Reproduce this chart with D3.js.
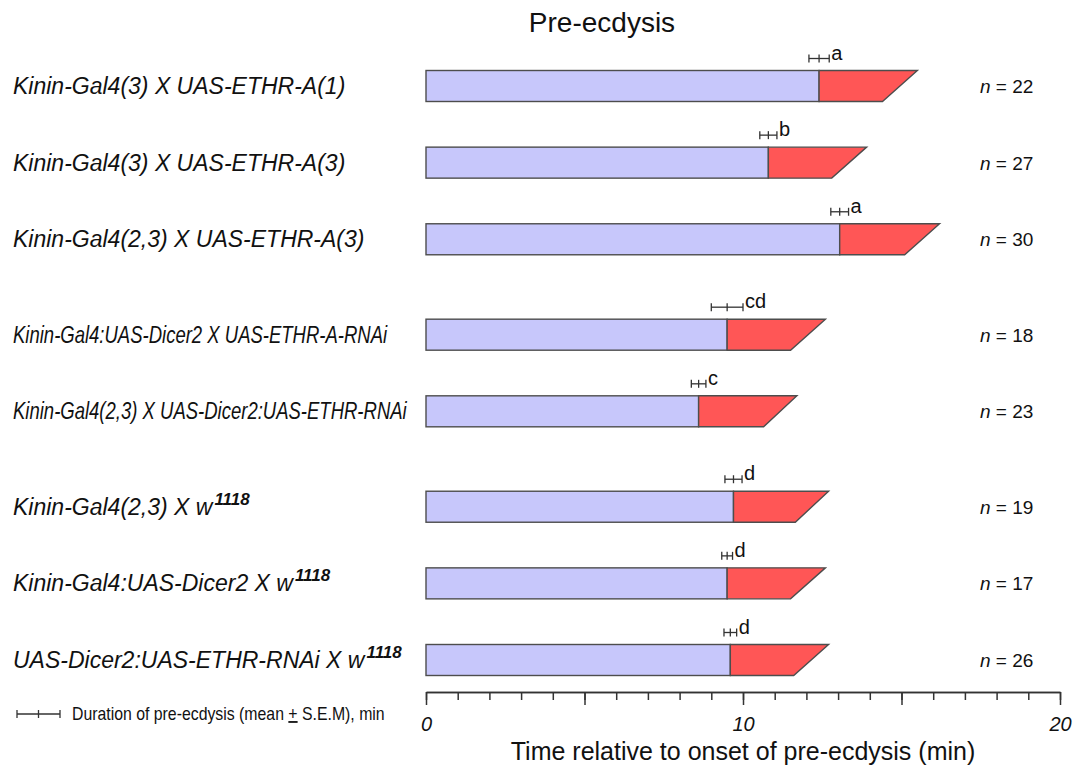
<!DOCTYPE html>
<html>
<head>
<meta charset="utf-8">
<script src="https://cdn.jsdelivr.net/npm/d3@7"></script>
<style>
  html, body { margin: 0; padding: 0; background: #fff; }
  svg { display: block; font-family: "Liberation Sans", Arial, sans-serif; }
</style>
</head>
<body>
<svg id="chart" width="1091" height="771"></svg>
<script>
// Genotypes (top to bottom) and their display group (blank gap between groups)
const genotypes = [
  "Kinin-Gal4(3) X UAS-ETHR-A(1)",
  "Kinin-Gal4(3) X UAS-ETHR-A(3)",
  "Kinin-Gal4(2,3) X UAS-ETHR-A(3)",
  "Kinin-Gal4:UAS-Dicer2 X UAS-ETHR-A-RNAi",
  "Kinin-Gal4(2,3) X UAS-Dicer2:UAS-ETHR-RNAi",
  "Kinin-Gal4(2,3) X w",
  "Kinin-Gal4:UAS-Dicer2 X w",
  "UAS-Dicer2:UAS-ETHR-RNAi X w"
];
const superscripts = ["", "", "", "", "", "1118", "1118", "1118"];
const groups = [0, 0, 0, 1, 1, 2, 2, 2];

// Pre-ecdysis duration (mean, min) and S.E.M.
const preEcdysisMean = [12.4, 10.8, 13.05, 9.5, 8.6, 9.7, 9.5, 9.6];
const preEcdysisSem  = [0.32, 0.27, 0.28, 0.5, 0.23, 0.27, 0.17, 0.2];
// Following phase: end at upper and lower edge of the slanted segment (min)
const nextPhaseEndTop    = [15.5, 13.9, 16.2, 12.6, 11.7, 12.7, 12.6, 12.7];
const nextPhaseEndBottom = [14.4, 12.8, 15.1, 11.5, 10.65, 11.65, 11.5, 11.6];

const sigLetters = ["a", "b", "a", "cd", "c", "d", "d", "d"];
const nCounts = [22, 27, 30, 18, 23, 19, 17, 26];

const majorTicks = [0, 5, 10, 15, 20];
const tickLabels = { 0: "0", 10: "10", 20: "20" };

const svg = d3.select("#chart");
const blueFill = "#c7c7fb", redFill = "#ff5656", edge = "#4d4d4d";

const x = d3.scaleLinear().domain([0, 20]).range([426, 1060]);
const groupGap = 0.245;
const slot = genotypes.map((_, i) => i + groups[i] * groupGap);
const y = d3.scaleLinear().domain([0, d3.max(slot)]).range([86, 660]);
const barH = 31;
const condensedRows = new Set([3, 4]);

// Title
svg.append("text")
  .attr("x", 602).attr("y", 32)
  .attr("text-anchor", "middle")
  .attr("font-size", 28)
  .attr("fill", "#111")
  .text("Pre-ecdysis");

const rows = svg.selectAll("g.row")
  .data(genotypes.map((g, i) => ({
    g, i, cy: y(slot[i]), mean: preEcdysisMean[i], sem: preEcdysisSem[i],
    top: nextPhaseEndTop[i], bot: nextPhaseEndBottom[i]
  })))
  .join("g").attr("class", "row");

// Genotype labels
rows.each(function(d) {
  const t = d3.select(this).append("text")
    .attr("x", 0).attr("y", 0)
    .attr("font-size", 23)
    .attr("font-style", "italic")
    .attr("fill", "#111");
  t.append("tspan").text(d.g);
  if (superscripts[d.i]) {
    t.append("tspan")
      .attr("font-size", 17)
      .attr("font-weight", "bold")
      .attr("dy", -10)
      .attr("dx", 2)
      .text(superscripts[d.i]);
  }
  const sx = condensedRows.has(d.i) ? 0.805 : 1;
  t.attr("transform", `translate(13,${d.cy + 8}) scale(${sx},1)`);
});

// Pre-ecdysis bar
rows.append("rect")
  .attr("x", x(0))
  .attr("y", d => d.cy - barH / 2)
  .attr("width", d => x(d.mean) - x(0))
  .attr("height", barH)
  .attr("fill", blueFill)
  .attr("stroke", edge)
  .attr("stroke-width", 1.4);

// Following phase (slanted segment)
rows.append("path")
  .attr("d", d => {
    const t = d.cy - barH / 2, b = d.cy + barH / 2;
    return `M${x(d.mean)},${t}L${x(d.top)},${t}L${x(d.bot)},${b}L${x(d.mean)},${b}Z`;
  })
  .attr("fill", redFill)
  .attr("stroke", edge)
  .attr("stroke-width", 1.4)
  .attr("stroke-linejoin", "miter");

// Error bars (mean ± S.E.M.)
function errorBar(g, x0, x1, xm, ey) {
  const cap = 4;
  g.append("line").attr("x1", x0).attr("x2", x1).attr("y1", ey).attr("y2", ey);
  [x0, xm, x1].forEach(v =>
    g.append("line").attr("x1", v).attr("x2", v).attr("y1", ey - cap).attr("y2", ey + cap));
}
rows.each(function(d) {
  const g = d3.select(this).append("g")
    .attr("stroke", "#333").attr("stroke-width", 1.3);
  const ey = d.cy - barH / 2 - 12;
  errorBar(g, x(d.mean - d.sem), x(d.mean + d.sem), x(d.mean), ey);
  d3.select(this).append("text")
    .attr("x", x(d.mean + d.sem) + 2)
    .attr("y", ey + 1)
    .attr("font-size", 20)
    .attr("fill", "#111")
    .text(sigLetters[d.i]);
});

// Sample sizes
rows.append("text")
  .attr("x", 980)
  .attr("y", d => d.cy + 7)
  .attr("font-size", 19)
  .attr("fill", "#111")
  .call(t => {
    t.append("tspan").attr("font-style", "italic").text("n");
    t.append("tspan").text(d => " = " + nCounts[d.i]);
  });

// X axis: minor ticks every minute, major every 5 min
const axisY = 692;
const minorAxis = d3.axisBottom(x).tickValues(d3.range(0, 21)).tickSize(8).tickSizeOuter(0).tickFormat("");
const majorAxis = d3.axisBottom(x).tickValues(majorTicks).tickSize(13).tickSizeOuter(0)
  .tickPadding(12).tickFormat(v => tickLabels[v] || "");
const gMinor = svg.append("g").attr("transform", `translate(0,${axisY})`).call(minorAxis);
const gMajor = svg.append("g").attr("transform", `translate(0,${axisY})`).call(majorAxis);
[gMinor, gMajor].forEach(g => {
  g.selectAll("path, line").attr("stroke", "#333").attr("stroke-width", 1.5);
});
gMajor.selectAll("text")
  .attr("font-size", 20)
  .attr("font-style", "italic")
  .attr("fill", "#111")
  .attr("font-family", "Liberation Sans, Arial, sans-serif");

svg.append("text")
  .attr("x", 743).attr("y", 760)
  .attr("text-anchor", "middle")
  .attr("font-size", 25)
  .attr("fill", "#111")
  .text("Time relative to onset of pre-ecdysis (min)");

// Legend
const leg = svg.append("g").attr("stroke", "#333").attr("stroke-width", 1.3);
errorBar(leg, 17, 60, 38.5, 714);
const legText = svg.append("text")
  .attr("font-size", 18)
  .attr("fill", "#111")
  .attr("transform", "translate(72,720) scale(0.88,1)");
legText.append("tspan").text("Duration of pre-ecdysis (mean ");
legText.append("tspan").attr("text-decoration", "underline").text("+");
legText.append("tspan").text(" S.E.M), min");
</script>
</body>
</html>
